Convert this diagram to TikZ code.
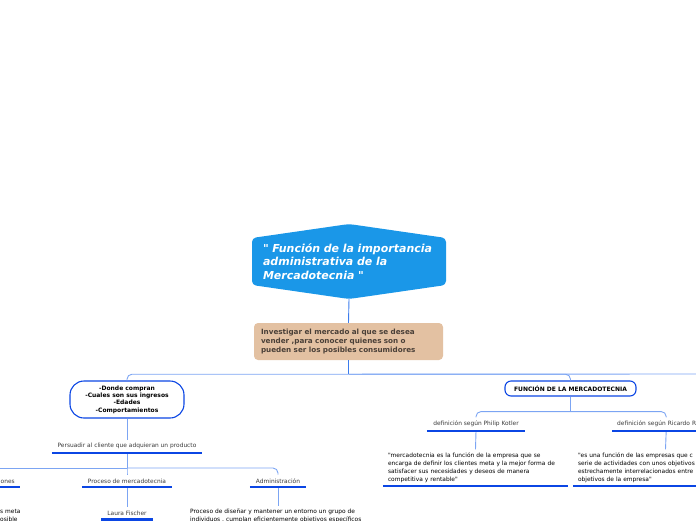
\documentclass[tikz,border=0pt]{standalone}
\usepackage{fontspec}
\setmainfont{DejaVu Sans}[Ligatures=TeXOff]
\definecolor{hexblue}{HTML}{1A97E8}
\definecolor{barblue}{HTML}{0B46E4}
\definecolor{linkblue}{HTML}{7CA5F3}
\definecolor{stemblue}{HTML}{3C7CEC}
\definecolor{tanbox}{HTML}{E3C1A2}
\definecolor{tantext}{HTML}{4A4038}
\definecolor{graytext}{HTML}{3A3A3A}

\begin{document}
\begin{tikzpicture}[x=1pt,y=-1pt,
    link/.style={draw=linkblue,line width=0.9pt,rounded corners=5pt},
    stem/.style={link,draw=stemblue},
    bar/.style={draw=barblue,line width=2.6pt},
    topic/.style={font=\fontsize{5.9}{7}\selectfont,text=graytext,inner xsep=0pt,inner ysep=3.6pt,anchor=south},
    note/.style={font=\fontsize{5.9}{8}\selectfont,text=black,align=left,text width=#1,inner xsep=5pt,inner ysep=3.2pt,anchor=south},
    pill/.style={draw=barblue,fill=white,line width=1.1pt,font=\bfseries\fontsize{6}{7.4}\selectfont,align=center}]

  \path[use as bounding box,clip] (0,0) rectangle (696,520);

  \fill[hexblue,rounded corners=4pt] (252,238) -- (349,224) -- (446,238) -- (446,285) -- (349,299) -- (252,285) -- cycle;
  \coordinate (hexbot) at (349,299);
  \node[text=white,font=\bfseries\itshape\fontsize{11}{13.5}\selectfont,align=left,text width=172pt,inner xsep=0pt,minimum width=194pt,minimum height=47pt] (title) at (349,261.5) {" Función de la importancia\\administrativa de la\\Mercadotecnia "};

  \node[fill=tanbox,rounded corners=4pt,text=tantext,font=\bfseries\fontsize{7.2}{9}\selectfont,align=left,text width=175pt,inner xsep=7pt,minimum height=37pt] (invest) at (348.5,341.5) {Investigar el mercado al que se desea\\vender ,para conocer quienes son o\\pueden ser los posibles consumidores};

  \node[pill,rounded corners=14pt,minimum width=114pt,minimum height=37pt] (donde) at (127,399.5) {-Donde compran\\-Cuales son sus ingresos\\-Edades\\-Comportamientos};
  \node[pill,rounded corners=6pt,minimum width=131pt,minimum height=15pt,inner sep=1pt] (funcion) at (570.5,388.5) {FUNCIÓN DE LA MERCADOTECNIA};

  \node[topic,minimum width=150pt] (persuadir) at (127,453) {Persuadir al cliente que adquieran un producto};
  \node[topic,anchor=south east,inner xsep=5pt] (funciones) at (20,487) {ones};
  \node[topic,minimum width=90pt] (proceso) at (127,487) {Proceso de mercadotecnia};
  \node[topic,minimum width=56pt] (admin) at (278,487) {Administración};
  \node[topic,minimum width=51pt] (laura) at (127,519.5) {Laura Fischer};
  \node[note=40pt,anchor=north west] (metanote) at (-5,505.5) {s meta\\osible};
  \node[note=185pt,anchor=north west] (adminnote) at (185,505.5) {Proceso de diseñar y mantener un entorno un grupo de\\individuos , cumplan eficientemente objetivos específicos};

  \node[topic,minimum width=98pt] (kotler) at (476,431) {definición según Philip Kotler};
  \node[topic,anchor=south west,text width=98pt,align=left,inner xsep=5pt] (ricardo) at (612,431) {definición según Ricardo R};
  \node[note=175pt] (kotlernote) at (475.5,486) {"mercadotecnia es la función de la empresa que se\\encarga de definir los clientes meta y la mejor forma de\\satisfacer sus necesidades y deseos de manera\\competitiva y rentable"};
  \node[note=175pt] (ricardonote) at (665.5,486) {"es una función de las empresas que c\\serie de actividades con unos objetivos\\estrechamente interrelacionados entre\\objetivos de la empresa"};

  \coordinate (offright) at (705,374);
  \coordinate (offleft) at (-5,468);

  \draw[stem] (hexbot) -- (invest.north);
  \draw[stem] (invest.south) -- ++(0,14) coordinate (hub);
  \draw[link] (hub) -| (donde.north);
  \draw[link] (hub) -| (funcion.north);
  \draw[link] (hub) -- (offright);
  \draw[link] (donde.south) -- (persuadir.north);
  \draw[link] (persuadir.south) -- ++(0,15) coordinate (hubleft);
  \draw[link] (hubleft) -- (offleft);
  \draw[link] (hubleft) -| (proceso.north);
  \draw[link] (hubleft) -| (admin.north);
  \draw[link] (proceso.south) -- (laura.north);
  \draw[link] (admin.south) -- (admin.south |- adminnote.north);
  \draw[link] (funcion.south) -- ++(0,15) coordinate (hubright);
  \draw[link] (hubright) -| (kotler.north);
  \draw[link] (hubright) -| (ricardo.north);
  \draw[link] (kotler.south) -- (kotlernote.north);
  \draw[link] (ricardo.south) -- (ricardonote.north);

  \foreach \n in {persuadir,funciones,proceso,admin,laura,kotler,ricardo,kotlernote,ricardonote}
    \draw[bar] (\n.south west) -- (\n.south east);
\end{tikzpicture}
\end{document}
